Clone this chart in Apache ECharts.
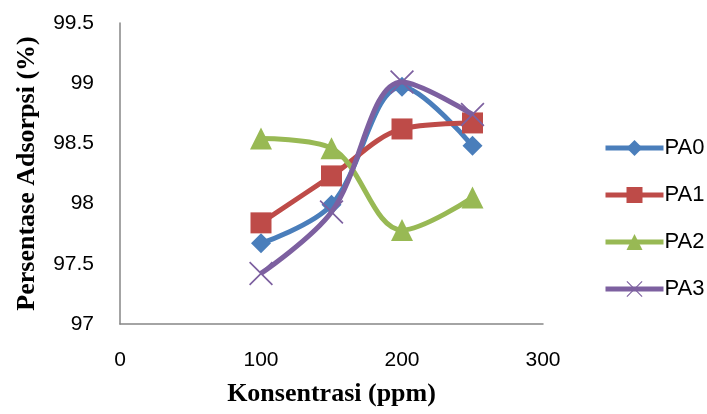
<!DOCTYPE html>
<html>
<head>
<meta charset="utf-8">
<script src="https://cdn.jsdelivr.net/npm/echarts@6/dist/echarts.min.js"></script>
<style>html,body{margin:0;padding:0;background:#fff;}#c{width:707px;height:414px;}</style>
</head>
<body>
<div id="c"></div>
<script>
const concentrations = [100, 150, 200, 250];
const PA0 = [97.67, 97.99, 98.97, 98.48];
const PA1 = [97.84, 98.23, 98.62, 98.67];
const PA2 = [98.54, 98.46, 97.78, 98.05];
const PA3 = [97.42, 97.93, 99.01, 98.74];
const seriesNames = ['PA0', 'PA1', 'PA2', 'PA3'];
const xTicks = [0, 100, 200, 300];
const yTicks = [97, 97.5, 98, 98.5, 99, 99.5];

const colors = ['#4A7EBB', '#BE4B48', '#98B954', '#7D60A0'];
const symbols = ['diamond', 'rect', 'triangle',
  'path://M0,1 L1,0 L10,9 L19,0 L20,1 L11,10 L20,19 L19,20 L10,11 L1,20 L0,19 L9,10Z'];
const sizes = [20, 21, 22, 24];
const allData = [PA0, PA1, PA2, PA3];

const chart = echarts.init(document.getElementById('c'));
chart.setOption({
  animation: false,
  backgroundColor: '#fff',
  grid: { left: 120, right: 164, top: 23, bottom: 90, containLabel: false },
  legend: {
    orient: 'vertical',
    left: 603,
    top: 137,
    padding: 0,
    itemWidth: 58,
    itemHeight: 20,
    itemGap: 25,
    lineStyle: { width: 5 },
    textStyle: { fontFamily: 'Liberation Sans', fontSize: 22, color: '#000', padding: [0, 0, 0, -4] },
    data: seriesNames
  },
  xAxis: {
    type: 'value',
    min: xTicks[0], max: xTicks[xTicks.length - 1], interval: 100,
    name: 'Konsentrasi (ppm)',
    nameLocation: 'middle',
    nameGap: 57,
    nameTextStyle: { fontFamily: 'Liberation Serif', fontWeight: 'bold', fontSize: 26, color: '#000' },
    axisLine: { show: true, lineStyle: { color: '#868686', width: 1.5 } },
    axisTick: { show: false },
    splitLine: { show: false },
    axisLabel: { fontFamily: 'Liberation Sans', fontSize: 21, color: '#000', margin: 26 }
  },
  yAxis: {
    type: 'value',
    min: yTicks[0], max: yTicks[yTicks.length - 1], interval: 0.5,
    name: 'Persentase Adsorpsi (%)',
    nameLocation: 'middle',
    nameRotate: 90,
    nameGap: 80,
    nameTextStyle: { fontFamily: 'Liberation Serif', fontWeight: 'bold', fontSize: 26, color: '#000' },
    axisLine: { show: true, lineStyle: { color: '#868686', width: 1.5 } },
    axisTick: { show: false },
    splitLine: { show: false },
    axisLabel: { fontFamily: 'Liberation Sans', fontSize: 21, color: '#000', margin: 26 }
  },
  series: seriesNames.map((n, i) => ({
    name: n,
    type: 'line',
    smooth: 0.35,
    data: concentrations.map((x, j) => [x, allData[i][j]]),
    symbol: symbols[i],
    symbolSize: sizes[i],
    showAllSymbol: true,
    lineStyle: { color: colors[i], width: 5 },
    itemStyle: { color: colors[i] },
    z: 2 + i
  }))
});
</script>
</body>
</html>
